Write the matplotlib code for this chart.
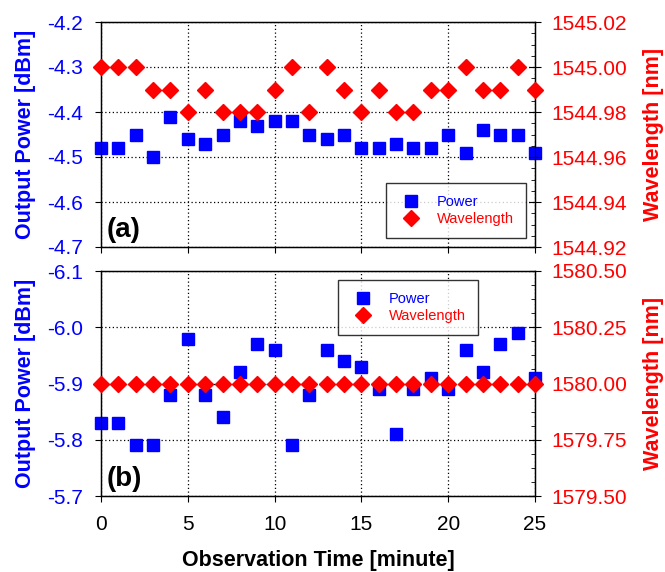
"""Output power and wavelength stability over 25 minutes, two lasing lines."""

import matplotlib
matplotlib.use("Agg")
import matplotlib.pyplot as plt
from matplotlib.ticker import AutoMinorLocator, FixedLocator

plt.rcParams["font.family"] = ["Liberation Sans", "DejaVu Sans"]

BLUE = "#0000FF"
RED = "#FF0000"

time_min = list(range(26))

# panel (a): ~1545 nm line
power_a = [-4.48, -4.48, -4.45, -4.50, -4.41, -4.46, -4.47, -4.45, -4.42, -4.43,
           -4.42, -4.42, -4.45, -4.46, -4.45, -4.48, -4.48, -4.47, -4.48, -4.48,
           -4.45, -4.49, -4.44, -4.45, -4.45, -4.49]
wave_a = [1545.00, 1545.00, 1545.00, 1544.99, 1544.99, 1544.98, 1544.99, 1544.98,
          1544.98, 1544.98, 1544.99, 1545.00, 1544.98, 1545.00, 1544.99, 1544.98,
          1544.99, 1544.98, 1544.98, 1544.99, 1544.99, 1545.00, 1544.99, 1544.99,
          1545.00, 1544.99]

# panel (b): ~1580 nm line
power_b = [-5.83, -5.83, -5.79, -5.79, -5.88, -5.98, -5.88, -5.84, -5.92, -5.97,
           -5.96, -5.79, -5.88, -5.96, -5.94, -5.93, -5.89, -5.81, -5.89, -5.91,
           -5.89, -5.96, -5.92, -5.97, -5.99, -5.91]
wave_b = [1580.00] * 26

x_ticks = [0, 5, 10, 15, 20, 25]
yticks_power_a = [-4.2, -4.3, -4.4, -4.5, -4.6, -4.7]
yticks_wave_a = [1545.02, 1545.00, 1544.98, 1544.96, 1544.94, 1544.92]
yticks_power_b = [-6.1, -6.0, -5.9, -5.8, -5.7]
yticks_wave_b = [1580.50, 1580.25, 1580.00, 1579.75, 1579.50]

TICK_FS = 15
LABEL_FS = 15.5


def draw_panel(rect, power, wave, p_ticks, p_lim, w_ticks, w_lim, tag,
               legend_anchor, show_x):
    ax = fig.add_axes(rect)
    ax.plot(time_min, power, "s", color=BLUE, ms=8, mec=BLUE, clip_on=False,
            label="Power", zorder=3)
    ax.set_xlim(0, 25)
    ax.set_ylim(*p_lim)
    ax.xaxis.set_major_locator(FixedLocator(x_ticks))
    ax.yaxis.set_major_locator(FixedLocator(p_ticks))
    ax.set_yticklabels([f"{v:.1f}" for v in p_ticks])
    ax.grid(True, color="black", linestyle=(0, (1, 2)), linewidth=0.9)
    ax.tick_params(axis="y", colors="black", labelcolor=BLUE, labelsize=TICK_FS,
                   direction="out", length=4, pad=9)
    ax.tick_params(axis="x", labelsize=TICK_FS, direction="out", length=4, pad=10)
    if not show_x:
        ax.tick_params(axis="x", labelbottom=False)
    ax.set_ylabel("Output Power [dBm]", color=BLUE, fontsize=LABEL_FS,
                  fontweight="bold")
    ax.yaxis.set_label_coords(-0.150, 0.5)
    for s in ax.spines.values():
        s.set_linewidth(1.0)

    ax2 = ax.twinx()
    ax2.plot(time_min, wave, "D", color=RED, ms=8.5, mec=RED, clip_on=False,
             label="Wavelength", zorder=3)
    ax2.set_ylim(*w_lim)
    ax2.yaxis.set_major_locator(FixedLocator(w_ticks))
    ax2.set_yticklabels([f"{v:.2f}" for v in w_ticks])
    ax2.yaxis.set_minor_locator(AutoMinorLocator(4))
    ax2.tick_params(axis="y", which="major", colors="black", labelcolor=RED,
                    labelsize=TICK_FS, direction="inout", length=8, pad=8)
    ax2.tick_params(axis="y", which="minor", direction="in", length=3)
    ax2.set_ylabel("Wavelength [nm]", color=RED, fontsize=LABEL_FS,
                   fontweight="bold")
    ax2.yaxis.set_label_coords(1.249, 0.5)

    ax.text(0.013, 0.02, tag, transform=ax.transAxes, fontsize=20,
            fontweight="bold", ha="left", va="bottom")

    handles = ax.get_lines()[:1] + ax2.get_lines()[:1]
    leg = ax2.legend(handles, ["Power", "Wavelength"], loc="upper left",
                     bbox_to_anchor=legend_anchor, fontsize=10.5, frameon=True,
                     fancybox=False, edgecolor="black", borderpad=0.8,
                     borderaxespad=0, handlelength=1.8, handletextpad=0.9,
                     labelspacing=0.25, markerscale=1.0)
    leg.get_frame().set_linewidth(1.0)
    for txt, col in zip(leg.get_texts(), [BLUE, RED]):
        txt.set_color(col)
    return ax, ax2


fig = plt.figure(figsize=(6.65, 5.72), dpi=100)

W, H = 665, 572
left, right = 101, 535
rect_a = [left / W, 1 - 247 / H, (right - left) / W, 225 / H]
rect_b = [left / W, 1 - 496 / H, (right - left) / W, 225 / H]

draw_panel(rect_a, power_a, wave_a, yticks_power_a, (-4.7, -4.2),
           yticks_wave_a, (1544.92, 1545.02), "(a)",
           ((386 - left) / (right - left), (247 - 183) / 225), show_x=False)
axb, _ = draw_panel(rect_b, power_b, wave_b, yticks_power_b, (-5.7, -6.1),
                    yticks_wave_b, (1579.50, 1580.50), "(b)",
                    ((338 - left) / (right - left), (496 - 280) / 225), show_x=True)
axb.set_xlabel("Observation Time [minute]", fontsize=LABEL_FS, fontweight="bold",
               labelpad=11)

fig.savefig("out.png", dpi=100)
